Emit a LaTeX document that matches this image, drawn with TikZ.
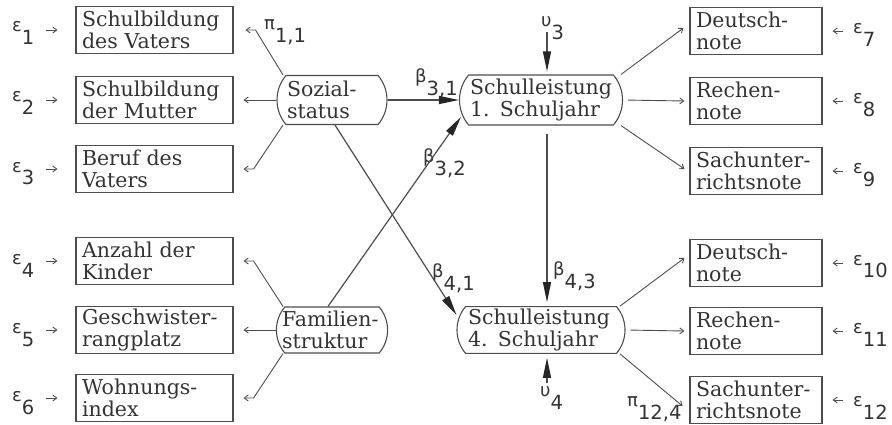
\documentclass[tikz,border=0pt]{standalone}
\usepackage{fontspec}
\setmainfont{DejaVu Serif}
\newfontfamily\symf{DejaVu Sans}
\usetikzlibrary{arrows.meta,shapes.misc}
\definecolor{ink}{HTML}{333333}
\definecolor{wire}{HTML}{4D4D4D}
\newcommand\gl[2]{{\symf\fontsize{18}{18}\selectfont #1\raisebox{-13pt}{\fontsize{19.5}{19.5}\selectfont #2}}}
\newcommand\boxfont{\fontsize{20.5}{22.5}\selectfont\hyphenpenalty=10000\exhyphenpenalty=10000}
\begin{document}
\begin{tikzpicture}[x=1pt,y=-1pt,
  box/.style={draw=wire, line width=1.1pt, rectangle, minimum height=47pt, inner xsep=6pt, inner ysep=2pt, align=left, text=ink, font=\boxfont},
  lbox/.style={box, text width=145pt, minimum width=157pt},
  rbox/.style={box, text width=120pt, minimum width=132pt},
  latent/.style={draw=wire, line width=1.1pt, rounded rectangle, rounded rectangle arc length=80, align=left, text=ink, font=\boxfont, inner xsep=0pt, inner ysep=2pt},
  lab/.style={inner sep=0pt, text=ink, anchor=base west},
  big/.style={draw=wire, line width=1.2pt, -{Triangle[length=20pt,width=8pt,color=black!85]}},
  outarr/.style={draw=wire, line width=0.9pt, -{Straight Barb[length=4pt,width=6pt]}}
]
\path[use as bounding box] (0,0) rectangle (892,425);

% left indicator boxes
\node[lbox] (b1) at (154.5,30) {Schulbildung\\des Vaters};
\node[lbox] (b2) at (154.5,100) {Schulbildung\\der Mutter};
\node[lbox] (b3) at (154.5,169) {Beruf des\\Vaters};
\node[lbox] (b4) at (154.5,261) {Anzahl der\\Kinder};
\node[lbox] (b5) at (154.5,330) {Geschwister-\\rangplatz};
\node[lbox] (b6) at (154.5,398) {Wohnungs-\\index};

% right indicator boxes
\node[rbox] (r7) at (756,31) {Deutsch-\\note};
\node[rbox] (r8) at (756,101) {Rechen-\\note};
\node[rbox] (r9) at (756,171) {Sachunter-\\richtsnote};
\node[rbox] (r10) at (756,263) {Deutsch-\\note};
\node[rbox] (r11) at (756,331) {Rechen-\\note};
\node[rbox] (r12) at (756,400) {Sachunter-\\richtsnote};

% latent variables
\node[latent, text width=90pt, minimum width=110pt, minimum height=49pt] (soz) at (332,100) {Sozial-\\status};
\node[latent, text width=100pt, minimum width=110pt, minimum height=46pt] (fam) at (332,330) {Familien-\\struktur};
\node[latent, text width=142pt, minimum width=163pt, minimum height=50pt] (s1) at (541,100) {Schulleistung\\1. Schuljahr};
\node[latent, text width=146pt, minimum width=168pt, minimum height=46pt] (s4) at (541,330) {Schulleistung\\4. Schuljahr};

% error labels
\node[lab] (e1) at (12,32) {\gl{ε}{1}};
\node[lab] (e2) at (12,102) {\gl{ε}{2}};
\node[lab] (e3) at (12,172) {\gl{ε}{3}};
\node[lab] (e4) at (12,264) {\gl{ε}{4}};
\node[lab] (e5) at (12,333) {\gl{ε}{5}};
\node[lab] (e6) at (12,401) {\gl{ε}{6}};
\node[lab] (e7) at (853,34) {\gl{ε}{7}};
\node[lab] (e8) at (853,104) {\gl{ε}{8}};
\node[lab] (e9) at (853,174) {\gl{ε}{9}};
\node[lab] (e10) at (853,265) {\gl{ε}{10}};
\node[lab] (e11) at (853,333) {\gl{ε}{11}};
\node[lab] (e12) at (853,406) {\gl{ε}{12}};

% coefficient labels
\node[lab] (p11) at (264,30) {\gl{π}{1,1}};
\node[lab] (b31) at (415,83) {\gl{β}{3,1}};
\node[lab] (b32) at (423,163) {\gl{β}{3,2}};
\node[lab] (b41) at (432,277) {\gl{β}{4,1}};
\node[lab] (b43) at (553,275) {\gl{β}{4,3}};
\node[lab] (p124) at (627,406) {\gl{π}{12,4}};
\node[lab] (u3) at (541,27) {\gl{υ}{3}};
\node[lab] (u4) at (540,396) {\gl{υ}{4}};

% error arrows
\foreach \b in {b1,b2,b3,b4,b5,b6}
  \draw[outarr] ([xshift=-29pt]\b.west) -- ([xshift=-18pt]\b.west);
\foreach \r in {r7,r8,r9,r10,r11,r12}
  \draw[outarr] ([xshift=20pt]\r.east) -- ([xshift=10pt]\r.east);

% Sozialstatus indicators
\draw[outarr] ([xshift=-49pt]soz.north) -- ([xshift=22pt]b1.east) -- ([xshift=12pt]b1.east);
\draw[outarr] (soz.west) -- ([xshift=10pt]b2.east);
\draw[outarr] ([xshift=-49pt]soz.south) -- ([xshift=20pt]b3.east) -- ([xshift=10pt]b3.east);
% Familienstruktur indicators
\draw[outarr] ([xshift=-49pt]fam.north) -- ([xshift=20pt]b4.east) -- ([xshift=10pt]b4.east);
\draw[outarr] (fam.west) -- ([xshift=10pt]b5.east);
\draw[outarr] ([xshift=-49pt]fam.south) -- ([xshift=20pt]b6.east) -- ([xshift=10pt]b6.east);

% Schulleistung 1 indicators
\draw[outarr] ([xshift=80pt]s1.north) -- ([xshift=-6pt,yshift=3pt]r7.west);
\draw[outarr, shorten <=5pt] (s1.east) -- ([xshift=-5pt]r8.west);
\draw[outarr] ([xshift=80pt]s1.south) -- ([xshift=-5pt,yshift=2pt]r9.west);
% Schulleistung 4 indicators
\draw[outarr] ([xshift=79pt]s4.north) -- ([xshift=-5pt,yshift=5pt]r10.west);
\draw[outarr, shorten <=5pt] (s4.east) -- ([xshift=-5pt]r11.west);
\draw[outarr] ([xshift=79pt]s4.south) -- ([xshift=-7pt,yshift=-6pt]r12.west);

% structural paths
\draw[big] (soz.east) -- (s1.west);
\draw[big] ([xshift=-4pt]fam.north) -- ([xshift=2pt,yshift=-17pt]s1.west);
\draw[big] ([xshift=3pt]soz.south) -- ([yshift=15pt]s4.west);
\draw[big, shorten <=8pt, shorten >=4pt] ([xshift=6pt]s1.south) -- ([xshift=6pt]s4.north);
\draw[big, shorten >=3pt] ([xshift=6pt,yshift=-5pt]u3.base west) -- ([xshift=6pt]s1.north);
\draw[big, shorten >=4pt] ([xshift=7pt,yshift=13pt]u4.base west) -- ([xshift=6pt]s4.south);
\end{tikzpicture}
\end{document}
